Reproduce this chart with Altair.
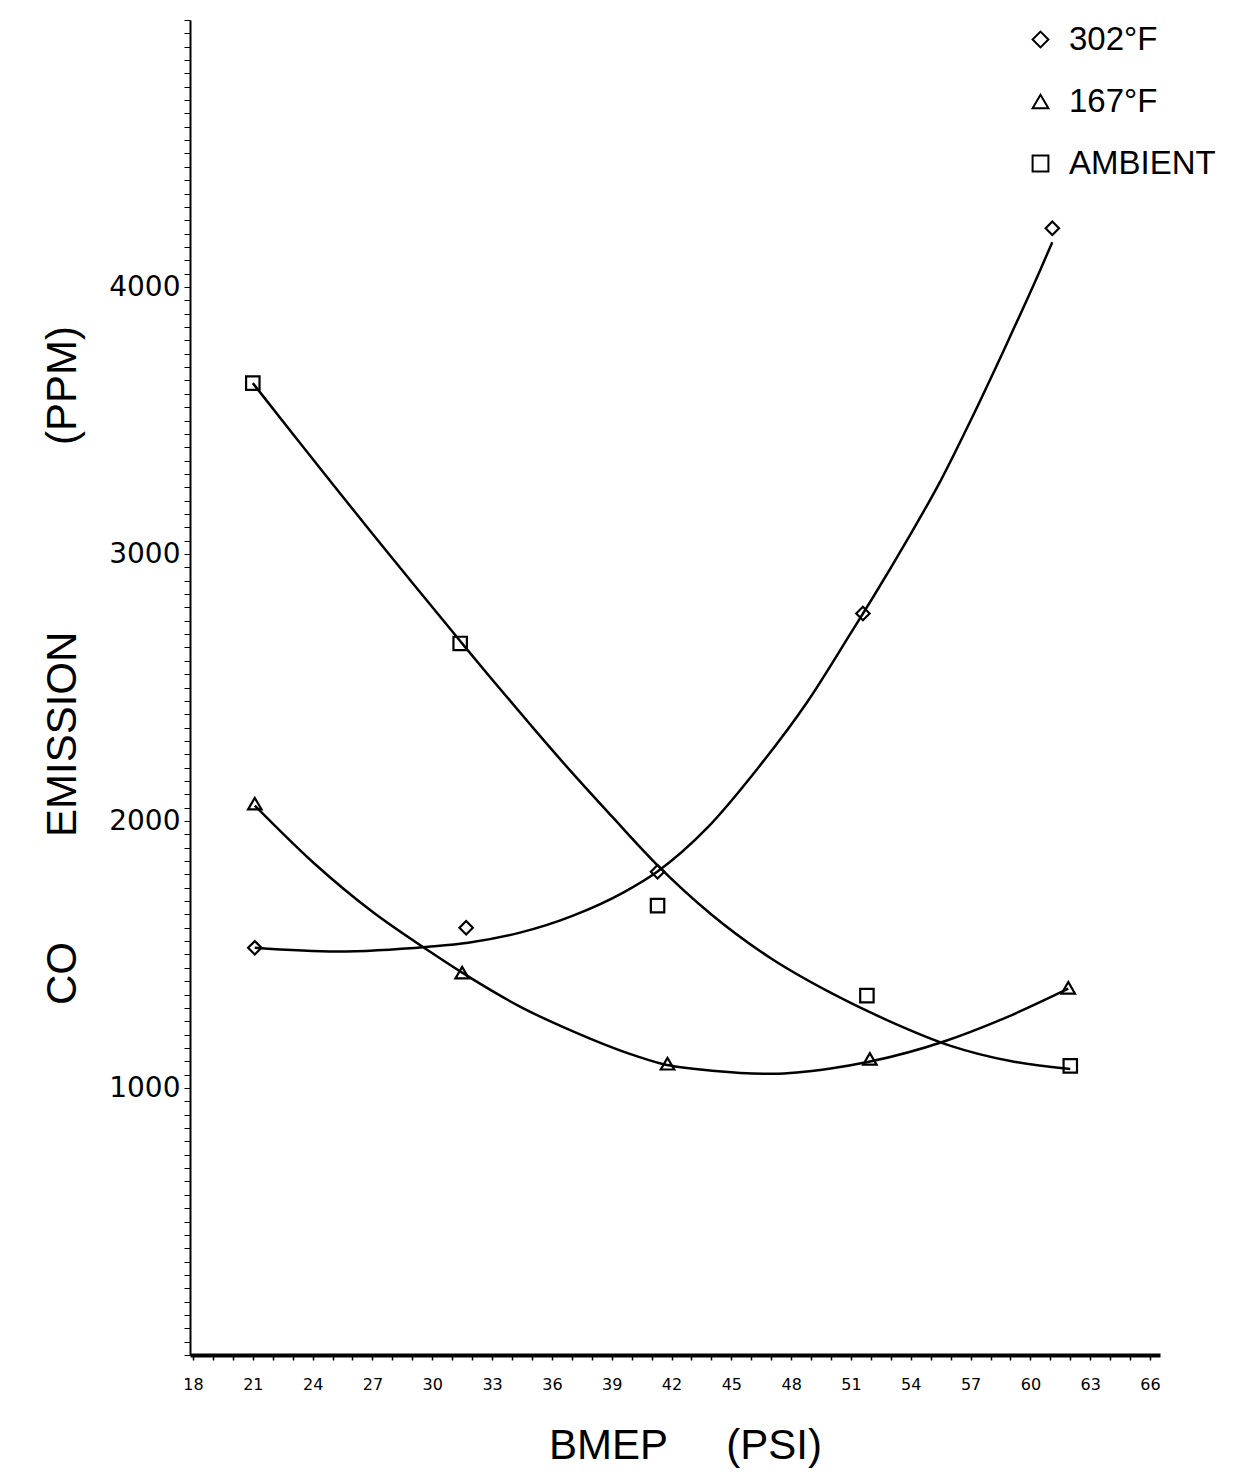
import altair as alt
import pandas as pd

series_names = ["302°F", "167°F", "AMBIENT"]
series_shapes = ["diamond", "triangle-up", "square"]

# measured points (BMEP psi, CO ppm)
x_302 = [21.1, 31.7, 41.3, 51.6, 61.1]
y_302 = [1525, 1600, 1810, 2777, 4220]
x_167 = [21.1, 31.5, 41.8, 51.95, 61.9]
y_167 = [2065, 1432, 1091, 1109, 1375]
x_amb = [21.0, 31.4, 41.3, 51.8, 62.0]
y_amb = [3640, 2665, 1683, 1346, 1083]

# fitted curves
cx_302 = [21.1, 25.2, 29.8, 31.8, 34.4, 37.0, 39.6, 41.3, 43.8, 46.3, 48.8, 51.1, 52.1, 53.8, 55.5, 57.1, 58.8, 60.5, 61.1]
cy_302 = [1525, 1511, 1529, 1544, 1582, 1644, 1733, 1811, 1975, 2195, 2445, 2717, 2837, 3050, 3275, 3515, 3785, 4065, 4168]
cx_167 = [21.1, 24.1, 27.0, 29.8, 31.8, 34.4, 37.0, 39.9, 41.5, 44.2, 47.1, 49.9, 51.9, 55.7, 58.5, 61.9]
cy_167 = [2058, 1840, 1660, 1515, 1418, 1305, 1214, 1128, 1091, 1064, 1053, 1072, 1098, 1175, 1255, 1372]
cx_amb = [21.0, 23.0, 25.0, 27.0, 29.0, 31.4, 33.0, 35.0, 37.0, 39.0, 41.3, 44.0, 47.0, 50.0, 53.0, 56.0, 59.0, 62.0]
cy_amb = [3640, 3450, 3262, 3076, 2892, 2674, 2530, 2354, 2182, 2018, 1834, 1650, 1485, 1356, 1248, 1158, 1101, 1071]

x_tick_labels = [18, 21, 24, 27, 30, 33, 36, 39, 42, 45, 48, 51, 54, 57, 60, 63, 66]
y_tick_labels = [1000, 2000, 3000, 4000]
x_minor_ticks = [18 + 0.5 * i for i in range(97)]
y_minor_ticks = [50 * i for i in range(101)]

markers = pd.concat([
    pd.DataFrame({"x": x_302, "y": y_302, "series": series_names[0]}),
    pd.DataFrame({"x": x_167, "y": y_167, "series": series_names[1]}),
    pd.DataFrame({"x": x_amb, "y": y_amb, "series": series_names[2]}),
])
curves = pd.concat([
    pd.DataFrame({"x": cx_302, "y": cy_302, "series": series_names[0]}),
    pd.DataFrame({"x": cx_167, "y": cy_167, "series": series_names[1]}),
    pd.DataFrame({"x": cx_amb, "y": cy_amb, "series": series_names[2]}),
])

x_scale = alt.Scale(domain=[17.85, 66.5], nice=False, zero=False)
y_scale = alt.Scale(domain=[0, 5000], nice=False)

nb = "\u00a0"
x_axis = alt.Axis(
    values=x_minor_ticks,
    labelExpr="indexof(" + str(x_tick_labels) + ", datum.value) >= 0 ? datum.label : ''",
    format="d", grid=False,
    tickSize=5, tickWidth=1.5, tickColor="black",
    domainWidth=4, domainColor="black",
    labelFont="DejaVu Sans", labelFontSize=16, labelColor="black", labelPadding=16,
    labelOverlap=False, labelFlush=False,
    title="BMEP" + nb * 5 + "(PSI)", titleFont="Liberation Sans", titleFontSize=42,
    titleFontWeight="normal", titleColor="black", titleX=495, titleY=103,
    titleBaseline="alphabetic", titleAlign="center",
)
y_axis = alt.Axis(
    values=y_minor_ticks,
    labelExpr="indexof(" + str(y_tick_labels) + ", datum.value) >= 0 ? datum.label : ''",
    format="d", grid=False,
    tickSize=6, tickWidth=1, tickColor="black",
    domainWidth=2, domainColor="black",
    labelFont="DejaVu Sans", labelFontSize=28, labelColor="black", labelPadding=4,
    labelOverlap=False, labelFlush=False,
    title="CO" + nb * 9 + "EMISSION" + nb * 16 + "(PPM)", titleFont="Liberation Sans",
    titleFontSize=42, titleFontWeight="normal", titleColor="black",
    titleX=-115, titleY=645, titleAngle=270, titleBaseline="alphabetic", titleAlign="center",
)

lines = alt.Chart(curves).mark_line(color="black", strokeWidth=2.5, interpolate="monotone").encode(
    x=alt.X("x:Q", scale=x_scale, axis=x_axis),
    y=alt.Y("y:Q", scale=y_scale, axis=y_axis),
    detail="series:N",
    order="x:Q",
)

points = alt.Chart(markers).mark_point(filled=False, size=180, strokeWidth=2.2, color="black", opacity=1).encode(
    x=alt.X("x:Q", scale=x_scale, axis=x_axis),
    y=alt.Y("y:Q", scale=y_scale, axis=y_axis),
    shape=alt.Shape(
        "series:N",
        scale=alt.Scale(domain=series_names, range=series_shapes),
        legend=alt.Legend(
            title=None, orient="none", legendX=834, legendY=3, padding=0,
            labelFont="Liberation Sans", labelFontSize=33, labelColor="black",
            symbolSize=250, symbolStrokeWidth=2, symbolStrokeColor="black",
            symbolFillColor="transparent", rowPadding=28, labelOffset=12,
        ),
    ),
)

chart = alt.layer(lines, points).properties(
    width=970, height=1335,
    padding={"left": 182, "top": 12, "right": 62, "bottom": 114},
    autosize=alt.AutoSizeParams(type="none"),
    background="white",
).configure_view(stroke=None)

chart.save("out.html", embed_options={"renderer": "svg", "actions": False})
